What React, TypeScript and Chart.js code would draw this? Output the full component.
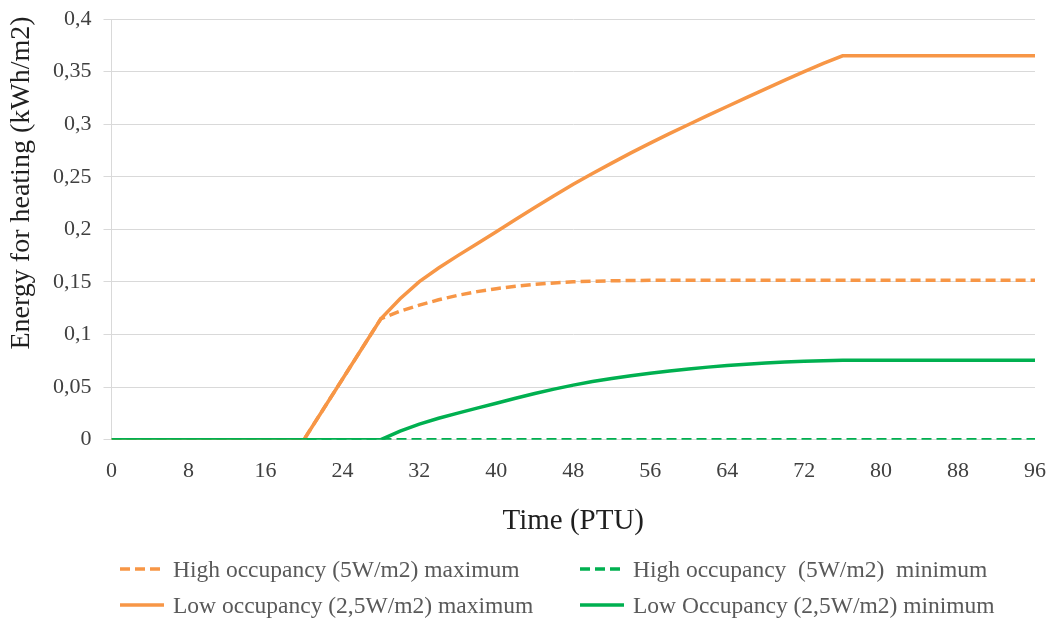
import React, { useEffect, useRef } from "react";
import { Chart, registerables } from "chart.js";

Chart.register(...registerables);

// Time axis (PTU) sample points, every 2 PTU
const ptu = [
  0, 2, 4, 6, 8, 10, 12, 14, 16, 18, 20, 22, 24, 26, 28, 30, 32, 34, 36, 38, 40, 42, 44, 46, 48,
  50, 52, 54, 56, 58, 60, 62, 64, 66, 68, 70, 72, 74, 76, 78, 80, 82, 84, 86, 88, 90, 92, 94, 96,
];

// Series values (kWh/m2)
const highMax = [
  0, 0, 0, 0, 0, 0, 0, 0, 0, 0, 0, 0.02875, 0.0575, 0.08625, 0.115,
  0.1222, 0.1279, 0.133, 0.1373, 0.1408, 0.1436, 0.1459, 0.1477, 0.1491, 0.1501, 0.1507, 0.1511, 0.1514,
  0.1515, 0.1515, 0.1515, 0.1515, 0.1515, 0.1515, 0.1515, 0.1515, 0.1515, 0.1515, 0.1515,
  0.1515, 0.1515, 0.1515, 0.1515, 0.1515, 0.1515, 0.1515, 0.1515, 0.1515, 0.1515,
];
const highMin = [
  0, 0, 0, 0, 0, 0, 0, 0, 0, 0, 0, 0, 0, 0, 0, 0, 0, 0, 0, 0, 0, 0, 0, 0, 0,
  0, 0, 0, 0, 0, 0, 0, 0, 0, 0, 0, 0, 0, 0, 0, 0, 0, 0, 0, 0, 0, 0, 0, 0,
];
const lowMax = [
  0, 0, 0, 0, 0, 0, 0, 0, 0, 0, 0, 0.02875, 0.0575, 0.08625, 0.115,
  0.134, 0.1503, 0.1632, 0.175, 0.1864, 0.1978, 0.2093, 0.2207, 0.2319, 0.2428, 0.2531, 0.263, 0.2727,
  0.282, 0.291, 0.2997, 0.3083, 0.3168, 0.3253, 0.3336, 0.3418, 0.3499, 0.3577, 0.365,
  0.365, 0.365, 0.365, 0.365, 0.365, 0.365, 0.365, 0.365, 0.365, 0.365,
];
const lowMin = [
  0, 0, 0, 0, 0, 0, 0, 0, 0, 0, 0, 0, 0, 0, 0,
  0.0082, 0.0148, 0.0204, 0.0253, 0.03, 0.0347, 0.0394, 0.0439, 0.0481, 0.0519, 0.0553, 0.0582, 0.0608,
  0.0632, 0.0654, 0.0673, 0.069, 0.0705, 0.0718, 0.0729, 0.0738, 0.0745, 0.0751, 0.0755,
  0.0755, 0.0755, 0.0755, 0.0755, 0.0755, 0.0755, 0.0755, 0.0755, 0.0755, 0.0755,
];

const seriesNames = [
  "High occupancy (5W/m2) maximum",
  "High occupancy  (5W/m2)  minimum",
  "Low occupancy (2,5W/m2) maximum",
  "Low Occupancy (2,5W/m2) minimum",
];

const xTitle = "Time (PTU)";
const yTitle = "Energy for heating (kWh/m2)";

const ORANGE = "#F79646";
const GREEN = "#00B050";
const SERIF = '"Liberation Serif", "DejaVu Serif", serif';

const toPoints = (vals: number[]) => vals.map((v, i) => ({ x: ptu[i], y: v }));

const yTitlePlugin = {
  id: "yTitlePlugin",
  afterDraw(chart: any) {
    const ctx = chart.ctx;
    ctx.save();
    ctx.translate(22, 183);
    ctx.rotate(-Math.PI / 2);
    ctx.font = `28px ${SERIF}`;
    ctx.fillStyle = "#1f1f1f";
    ctx.textAlign = "center";
    ctx.textBaseline = "middle";
    ctx.fillText(yTitle, 0, 0);
    ctx.restore();
  },
};

function LegendItem({ left, top, color, dashed, label }: any) {
  return (
    <div style={{ position: "absolute", left, top: top - 16, height: 32, display: "flex", alignItems: "center" }}>
      <svg width={44} height={6} style={{ marginRight: 9 }}>
        <line
          x1={0}
          y1={3}
          x2={44}
          y2={3}
          stroke={color}
          strokeWidth={3.5}
          strokeDasharray={dashed ? "10 5" : undefined}
        />
      </svg>
      <span style={{ font: `23.5px ${SERIF}`, color: "#595959", whiteSpace: "pre" }}>{label}</span>
    </div>
  );
}

export default function App() {
  const ref = useRef<HTMLCanvasElement | null>(null);

  useEffect(() => {
    if (!ref.current) return;
    const line = (label: string, vals: number[], color: string, dashed: boolean) => ({
      label,
      data: toPoints(vals),
      borderColor: color,
      borderWidth: 3.5,
      borderDash: dashed ? [10, 5] : [],
      pointRadius: 0,
      tension: 0,
    });
    const chart = new Chart(ref.current, {
      type: "line",
      data: {
        datasets: [
          line(seriesNames[3], lowMin, GREEN, false),
          line(seriesNames[2], lowMax, ORANGE, false),
          line(seriesNames[1], highMin, GREEN, true),
          line(seriesNames[0], highMax, ORANGE, true),
        ],
      },
      options: {
        animation: false,
        responsive: false,
        maintainAspectRatio: false,
        devicePixelRatio: 1,
        layout: { padding: { left: 0, right: 20, top: 19, bottom: 83 } },
        plugins: {
          legend: { display: false },
          tooltip: { enabled: false },
        },
        scales: {
          x: {
            type: "linear",
            min: 0,
            max: 96,
            grid: { display: false, drawTicks: false },
            border: { display: false },
            ticks: {
              stepSize: 8,
              padding: 18,
              color: "#404040",
              font: { family: SERIF, size: 22 },
            },
            title: {
              display: true,
              text: xTitle,
              color: "#1f1f1f",
              font: { family: SERIF, size: 29 },
              padding: { top: 0, bottom: 0 },
            },
            afterFit: (scale: any) => {
              scale.height = 99.3;
              scale.paddingLeft = 0;
              scale.paddingRight = 0;
            },
          },
          y: {
            min: 0,
            max: 0.4,
            grid: { color: "#D9D9D9", lineWidth: 1, drawTicks: true, tickLength: 8, tickColor: "#D9D9D9" },
            border: { display: true, color: "#D9D9D9" },
            ticks: {
              stepSize: 0.05,
              padding: 12,
              color: "#404040",
              font: { family: SERIF, size: 22 },
              callback: (v: any) => String(Math.round(Number(v) * 100) / 100).replace(".", ","),
            },
            afterFit: (scale: any) => {
              scale.width = 111.5;
              scale.paddingTop = 0;
              scale.paddingBottom = 0;
            },
          },
        },
      },
      plugins: [yTitlePlugin],
    });
    return () => chart.destroy();
  }, []);

  return (
    <div style={{ position: "fixed", left: 0, top: 0, width: 1055, height: 622, background: "#fff" }}>
      <canvas ref={ref} width={1055} height={622} style={{ display: "block" }} />
      <LegendItem left={120} top={569} color={ORANGE} dashed label={seriesNames[0]} />
      <LegendItem left={580} top={569} color={GREEN} dashed label={seriesNames[1]} />
      <LegendItem left={120} top={605} color={ORANGE} dashed={false} label={seriesNames[2]} />
      <LegendItem left={580} top={605} color={GREEN} dashed={false} label={seriesNames[3]} />
    </div>
  );
}
